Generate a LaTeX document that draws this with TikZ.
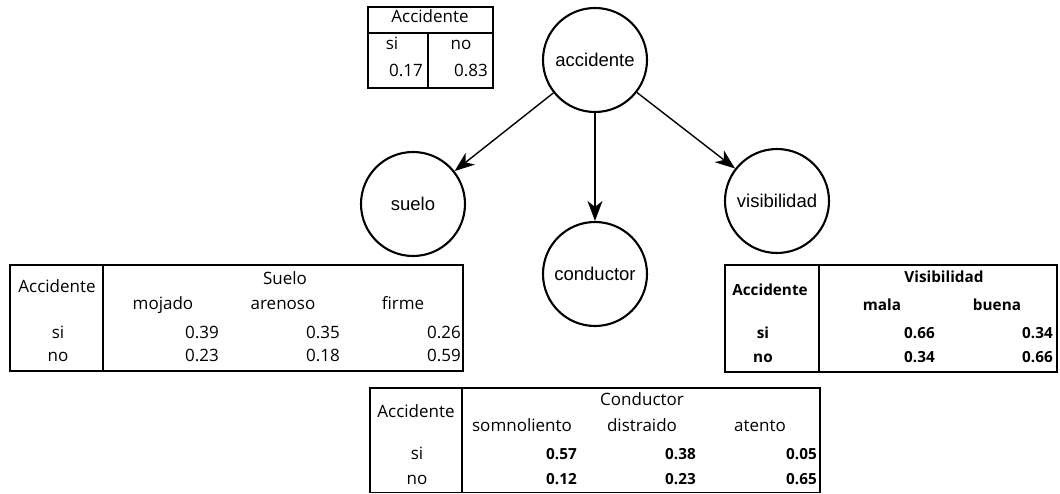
\documentclass[tikz,border=0pt]{standalone}
\usepackage{fontspec}
\usetikzlibrary{arrows.meta}
\newfontfamily\circfont{Liberation Sans}
\newfontfamily\tabfont{Open Sans}
\begin{document}
\begin{tikzpicture}[x=1pt,y=-1pt,
  varnode/.style={circle, draw, line width=2.1pt, minimum size=104pt, inner sep=0pt,
    font=\circfont\fontsize{18.5}{20}\selectfont},
  link/.style={line width=1.4pt, -{Stealth[length=20pt,width=15pt,inset=6pt]}},
  frame/.style={draw, line width=1.6pt},
  rule/.style={line width=1.5pt},
  txt/.style={inner sep=0pt, font=\tabfont\fontsize{17}{19}\selectfont},
  num/.style={txt, anchor=mid east},
  lbl/.style={txt, anchor=mid},
  btxt/.style={txt, font=\tabfont\bfseries\fontsize{15.3}{17}\selectfont},
  bnum/.style={btxt, anchor=mid east},
  blbl/.style={btxt, anchor=mid}]
\useasboundingbox (0,0) rectangle (1060,494);

% network
\node[varnode] (acc) at (595,60) {accidente};
\node[varnode] (sue) at (413,204) {suelo};
\node[varnode] (con) at (595,274) {conductor};
\node[varnode] (vis) at (777,201) {visibilidad};
\draw[link] (acc) -- (sue);
\draw[link] (acc) -- (con);
\draw[link] (acc) -- (vis);

% prior of Accidente
\draw[frame] (368,7) rectangle (493,88);
\draw[rule] (368,33) -- (493,33);
\draw[rule] (428,33) -- (428,88);
\node[lbl] (pA) at (430,20) {Accidente};
\node[lbl] (pSi) at (392,47) {si};
\node[lbl] (pNo) at (461,47) {no};
\node[num] (p1) at (423,74) {0.17};
\node[num] (p2) at (488,74) {0.83};

% table for Suelo
\draw[frame] (10,265) rectangle (463,371);
\draw[rule] (103,265) -- (103,371);
\node[lbl] (sA) at (57,290) {Accidente};
\node[lbl] (sT) at (285,282) {Suelo};
\node[lbl] (sC1) at (163,307) {mojado};
\node[lbl] (sC2) at (283,307) {arenoso};
\node[lbl] (sC3) at (403,307) {firme};
\node[lbl] (sSi) at (58,336) {si};
\node[lbl] (sNo) at (58,359) {no};
\node[num] (s11) at (219,336) {0.39};
\node[num] (s12) at (340,336) {0.35};
\node[num] (s13) at (461,336) {0.26};
\node[num] (s21) at (219,359) {0.23};
\node[num] (s22) at (340,359) {0.18};
\node[num] (s23) at (461,359) {0.59};

% table for Visibilidad
\draw[frame] (725,265) rectangle (1057,372);
\draw[rule] (819,265) -- (819,372);
\node[blbl] (vA) at (770,293) {Accidente};
\node[blbl] (vT) at (944,280) {Visibilidad};
\node[blbl] (vC1) at (882,308) {mala};
\node[blbl] (vC2) at (997,308) {buena};
\node[blbl] (vSi) at (763,336) {si};
\node[blbl] (vNo) at (763,360) {no};
\node[bnum] (v11) at (935,336) {0.66};
\node[bnum] (v12) at (1053,336) {0.34};
\node[bnum] (v21) at (935,360) {0.34};
\node[bnum] (v22) at (1053,360) {0.66};

% table for Conductor
\draw[frame] (370,388) rectangle (820,492.5);
\draw[rule] (462,388) -- (462,492.5);
\node[lbl] (cA) at (416,415) {Accidente};
\node[lbl] (cT) at (642,403) {Conductor};
\node[lbl] (cC1) at (522,429) {somnoliento};
\node[lbl] (cC2) at (642,429) {distraido};
\node[lbl] (cC3) at (760,429) {atento};
\node[lbl] (cSi) at (417,457) {si};
\node[lbl] (cNo) at (417,482) {no};
\node[bnum] (c11) at (577,457) {0.57};
\node[bnum] (c12) at (696,457) {0.38};
\node[bnum] (c13) at (817,457) {0.05};
\node[bnum] (c21) at (577,482) {0.12};
\node[bnum] (c22) at (696,482) {0.23};
\node[bnum] (c23) at (817,482) {0.65};
\end{tikzpicture}
\end{document}
